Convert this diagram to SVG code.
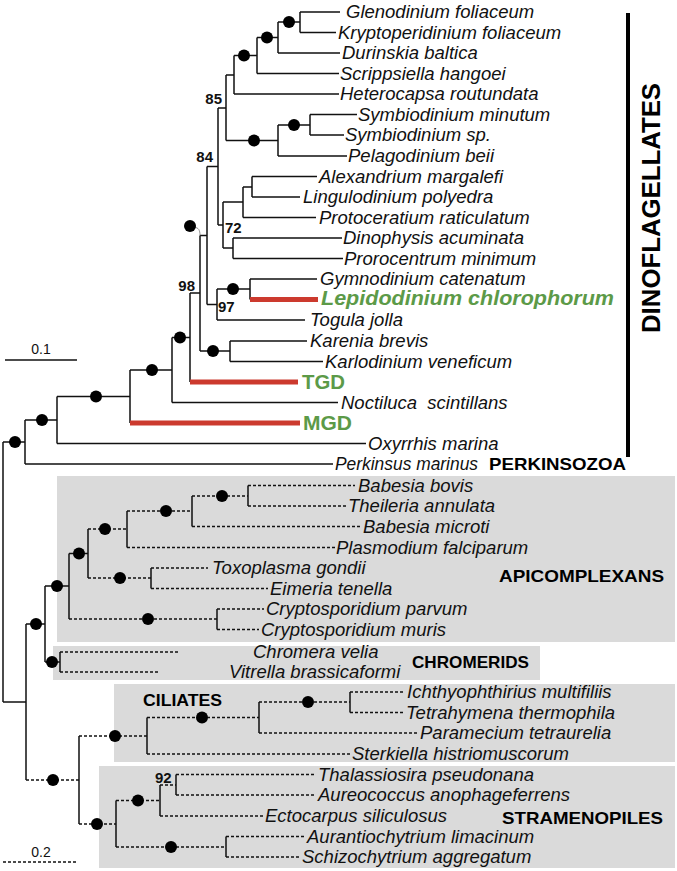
<svg xmlns="http://www.w3.org/2000/svg" width="677" height="871" viewBox="0 0 677 871">
<defs>
<style>
.br{stroke:#111;stroke-width:1.5;fill:none}
.ds{stroke:#111;stroke-width:1.5;fill:none;stroke-dasharray:3 2}
.red{stroke:#cc3a2e;stroke-width:5;fill:none}
.dot{fill:#000}
.box{fill:#dadada}
text{font-family:"Liberation Sans",Arial,sans-serif;fill:#111}
.tx{font-style:italic;font-size:18.5px}
.bs{font-weight:bold;font-size:15px}
.grp{font-weight:bold;font-size:16.5px;fill:#000}
.grn{font-weight:bold;fill:#5c9a48;font-size:20px}
.sc{font-size:14px}
</style>
</defs>
<g id="boxes">
<rect class="box" x="57" y="476" width="618" height="166"/>
<rect class="box" x="53" y="646" width="487" height="34"/>
<rect class="box" x="114" y="684" width="561" height="78"/>
<rect class="box" x="99" y="766" width="576" height="102"/>
</g>
<g id="connectors">
<path class="br" d="M300,12H340 M300,32.5H336 M278,53H340 M257,73.5H339 M234,94H339 M310,114.5H357 M310,135H344 M278,156H347 M252,176.5H317 M252,197H300 M243,217.5H316 M233,238H342 M233,258.5H343 M250,279H317 M217,320H305 M230,341H307 M230,361.5H323 M172,402.5H338 M57,443.5H366 M25,464H333"/>
<path class="br" d="M300,12V32.5 M278,22V53 M257,37.5V73.5 M234,55.5V94 M310,114.5V135 M278,125V156 M226,75V140.5 M252,176.5V197 M243,187V217.5 M233,238V258.5 M223,202V248 M218,108V225 M250,279V299.5 M217,289V320 M207,166.5V304.5 M230,341V361.5 M200,235.5V351 M190,293V382 M172,337.5V402.5 M130,370V423 M57,396.5V443.5 M25,420V464 M3,442V702"/>
<path class="br" d="M278,22H300 M257,37.5H278 M234,55.5H257 M226,75H234 M278,125H310 M226,140.5H278 M218,108H226 M243,187H252 M223,202H243 M223,248H233 M218,225H223 M207,166.5H218 M217,289H250 M207,304.5H217 M200,235.5H207 M200,351H230 M190,293H200 M172,337.5H190 M130,370H172 M57,396.5H130 M25,420H57 M3,442H25"/>
<path class="red" d="M250,299.5H318 M190,382H298 M130,423H300"/>
<path d="M194.5,227.5 C198.5,227.5 200,230 200,235.5" stroke="#777" stroke-width="0.8" fill="none"/>
<path class="br" d="M3,702H26 M26,624V780 M26,624H45 M45,586V662 M45,586H69 M45,662H60 M69,553.5V619 M69,553.5H88 M88,529V578 M127,511V547.5 M192,496V526.5 M248,485.5V506 M151,568V588.5 M217,609V629.5 M60,652V672 M79,736V824 M147,717.5V754 M259,702V733 M350,692V712.5 M116,800.5V847 M160,785V816 M176,774.5V795 M226,836.5V857"/>
<path class="ds" d="M88,529H127 M127,511H192 M192,496H248 M248,485.5H355 M248,506H347 M192,526.5H362 M127,547.5H335 M88,578H151 M151,568H208 M151,588.5H268 M69,619H217 M217,609H264 M217,629.5H259 M60,652H180 M60,672H160 M26,780H79 M79,736H147 M147,717.5H259 M259,702H350 M350,692H405 M350,712.5H404 M259,733H418 M147,754H350 M79,824H116 M116,800.5H160 M160,785H176 M176,774.5H315 M176,795H315 M160,816H263 M116,847H226 M226,836.5H305 M226,857H300"/>
</g>
<g id="support-dots">
<circle class="dot" cx="289" cy="22" r="6"/>
<circle class="dot" cx="267" cy="37.5" r="6"/>
<circle class="dot" cx="244" cy="55.5" r="6"/>
<circle class="dot" cx="294" cy="125" r="6"/>
<circle class="dot" cx="254" cy="140.5" r="6"/>
<circle class="dot" cx="190" cy="226" r="6"/>
<circle class="dot" cx="233" cy="289" r="6"/>
<circle class="dot" cx="213" cy="351" r="6"/>
<circle class="dot" cx="180" cy="337.5" r="6"/>
<circle class="dot" cx="152" cy="370" r="6"/>
<circle class="dot" cx="96" cy="396.5" r="6"/>
<circle class="dot" cx="42" cy="420" r="6"/>
<circle class="dot" cx="15" cy="442" r="6"/>
<circle class="dot" cx="222" cy="496" r="6"/>
<circle class="dot" cx="166" cy="511" r="6"/>
<circle class="dot" cx="105" cy="529" r="6"/>
<circle class="dot" cx="120" cy="578" r="6"/>
<circle class="dot" cx="79" cy="553.5" r="6"/>
<circle class="dot" cx="148" cy="619" r="6"/>
<circle class="dot" cx="57" cy="586" r="6"/>
<circle class="dot" cx="52" cy="662" r="6"/>
<circle class="dot" cx="36" cy="624" r="6"/>
<circle class="dot" cx="308" cy="702" r="6"/>
<circle class="dot" cx="202" cy="717.5" r="6"/>
<circle class="dot" cx="115" cy="736" r="6"/>
<circle class="dot" cx="138" cy="800.5" r="6"/>
<circle class="dot" cx="171" cy="847" r="6"/>
<circle class="dot" cx="97" cy="824" r="6"/>
<circle class="dot" cx="53" cy="780" r="6"/>
</g>
<g id="support-values">
<text class="bs" x="222" y="104" text-anchor="end">85</text>
<text class="bs" x="213" y="162" text-anchor="end">84</text>
<text class="bs" x="225" y="233">72</text>
<text class="bs" x="195" y="291" text-anchor="end">98</text>
<text class="bs" x="218" y="312">97</text>
<text class="bs" x="155" y="783">92</text>
</g>
<g id="t-glenodinium"><text class="tx" x="346" y="18">Glenodinium foliaceum</text></g>
<g id="t-kryptoperidinium"><text class="tx" x="338" y="38.5">Kryptoperidinium foliaceum</text></g>
<g id="t-durinskia"><text class="tx" x="342" y="59">Durinskia baltica</text></g>
<g id="t-scrippsiella"><text class="tx" x="340" y="79.5">Scrippsiella hangoei</text></g>
<g id="t-heterocapsa"><text class="tx" x="340" y="100">Heterocapsa routundata</text></g>
<g id="t-symbiodinium-minutum"><text class="tx" x="358" y="120.5">Symbiodinium minutum</text></g>
<g id="t-symbiodinium-sp"><text class="tx" x="345" y="141">Symbiodinium sp.</text></g>
<g id="t-pelagodinium"><text class="tx" x="348" y="162">Pelagodinium beii</text></g>
<g id="t-alexandrium"><text class="tx" x="319" y="182.5">Alexandrium margalefi</text></g>
<g id="t-lingulodinium"><text class="tx" x="303" y="203">Lingulodinium polyedra</text></g>
<g id="t-protoceratium"><text class="tx" x="319" y="223.5">Protoceratium raticulatum</text></g>
<g id="t-dinophysis"><text class="tx" x="343" y="244">Dinophysis acuminata</text></g>
<g id="t-prorocentrum"><text class="tx" x="344" y="264.5">Prorocentrum minimum</text></g>
<g id="t-gymnodinium"><text class="tx" x="320" y="285">Gymnodinium catenatum</text></g>
<g id="t-lepidodinium"><text class="grn" x="321" y="305" font-style="italic" textLength="293" lengthAdjust="spacingAndGlyphs">Lepidodinium chlorophorum</text></g>
<g id="t-togula"><text class="tx" x="310" y="326">Togula jolla</text></g>
<g id="t-karenia"><text class="tx" x="310" y="347">Karenia brevis</text></g>
<g id="t-karlodinium"><text class="tx" x="325" y="367.5">Karlodinium veneficum</text></g>
<g id="t-tgd"><text class="grn" x="302" y="389" textLength="43" lengthAdjust="spacingAndGlyphs">TGD</text></g>
<g id="t-noctiluca"><text class="tx" x="341" y="408.5" xml:space="preserve">Noctiluca  scintillans</text></g>
<g id="t-mgd"><text class="grn" x="303" y="430" textLength="49" lengthAdjust="spacingAndGlyphs">MGD</text></g>
<g id="t-oxyrrhis"><text class="tx" x="368" y="449.5">Oxyrrhis marina</text></g>
<g id="t-perkinsus"><text class="tx" x="335" y="470" textLength="143" lengthAdjust="spacingAndGlyphs">Perkinsus marinus</text></g>
<g id="t-babesia-bovis"><text class="tx" x="358" y="491.5">Babesia bovis</text></g>
<g id="t-theileria"><text class="tx" x="348" y="512">Theileria annulata</text></g>
<g id="t-babesia-microti"><text class="tx" x="363" y="532.5">Babesia microti</text></g>
<g id="t-plasmodium"><text class="tx" x="336" y="553.5">Plasmodium falciparum</text></g>
<g id="t-toxoplasma"><text class="tx" x="212" y="574">Toxoplasma gondii</text></g>
<g id="t-eimeria"><text class="tx" x="270" y="594.5">Eimeria tenella</text></g>
<g id="t-cryptosporidium-parvum"><text class="tx" x="266" y="615">Cryptosporidium parvum</text></g>
<g id="t-cryptosporidium-muris"><text class="tx" x="261" y="635.5">Cryptosporidium muris</text></g>
<g id="t-chromera"><text class="tx" x="253" y="658">Chromera velia</text></g>
<g id="t-vitrella"><text class="tx" x="229" y="678">Vitrella brassicaformi</text></g>
<g id="t-ichthyophthirius"><text class="tx" x="407" y="698">Ichthyophthirius multifiliis</text></g>
<g id="t-tetrahymena"><text class="tx" x="406" y="718.5">Tetrahymena thermophila</text></g>
<g id="t-paramecium"><text class="tx" x="420" y="739">Paramecium tetraurelia</text></g>
<g id="t-sterkiella"><text class="tx" x="352" y="760">Sterkiella histriomuscorum</text></g>
<g id="t-thalassiosira"><text class="tx" x="318" y="780.5">Thalassiosira pseudonana</text></g>
<g id="t-aureococcus"><text class="tx" x="318" y="801">Aureococcus anophageferrens</text></g>
<g id="t-ectocarpus"><text class="tx" x="265" y="822">Ectocarpus siliculosus</text></g>
<g id="t-aurantiochytrium"><text class="tx" x="307" y="842.5">Aurantiochytrium limacinum</text></g>
<g id="t-schizochytrium"><text class="tx" x="302" y="863">Schizochytrium aggregatum</text></g>
<g id="clade-dinoflagellates">
<rect x="626" y="13" width="4" height="444" fill="#000"/>
<text class="grp" transform="translate(660,208) rotate(-90)" text-anchor="middle" style="font-size:25px" textLength="250" lengthAdjust="spacingAndGlyphs">DINOFLAGELLATES</text>
</g>
<g id="clade-perkinsozoa"><text class="grp" x="489" y="470" textLength="137" lengthAdjust="spacingAndGlyphs">PERKINSOZOA</text></g>
<g id="clade-apicomplexans"><text class="grp" x="499" y="582" textLength="165" lengthAdjust="spacingAndGlyphs">APICOMPLEXANS</text></g>
<g id="clade-chromerids"><text class="grp" x="412" y="668" textLength="117" lengthAdjust="spacingAndGlyphs">CHROMERIDS</text></g>
<g id="clade-ciliates"><text class="grp" x="143" y="706" textLength="79" lengthAdjust="spacingAndGlyphs">CILIATES</text></g>
<g id="clade-stramenopiles"><text class="grp" x="502" y="824" textLength="161" lengthAdjust="spacingAndGlyphs">STRAMENOPILES</text></g>
<g id="scale-bars">
<text class="sc" x="41" y="354" text-anchor="middle">0.1</text>
<path class="br" d="M5,360H77"/>
<text class="sc" x="41" y="857" text-anchor="middle">0.2</text>
<path class="ds" d="M3,862H77"/>
</g>
</svg>
